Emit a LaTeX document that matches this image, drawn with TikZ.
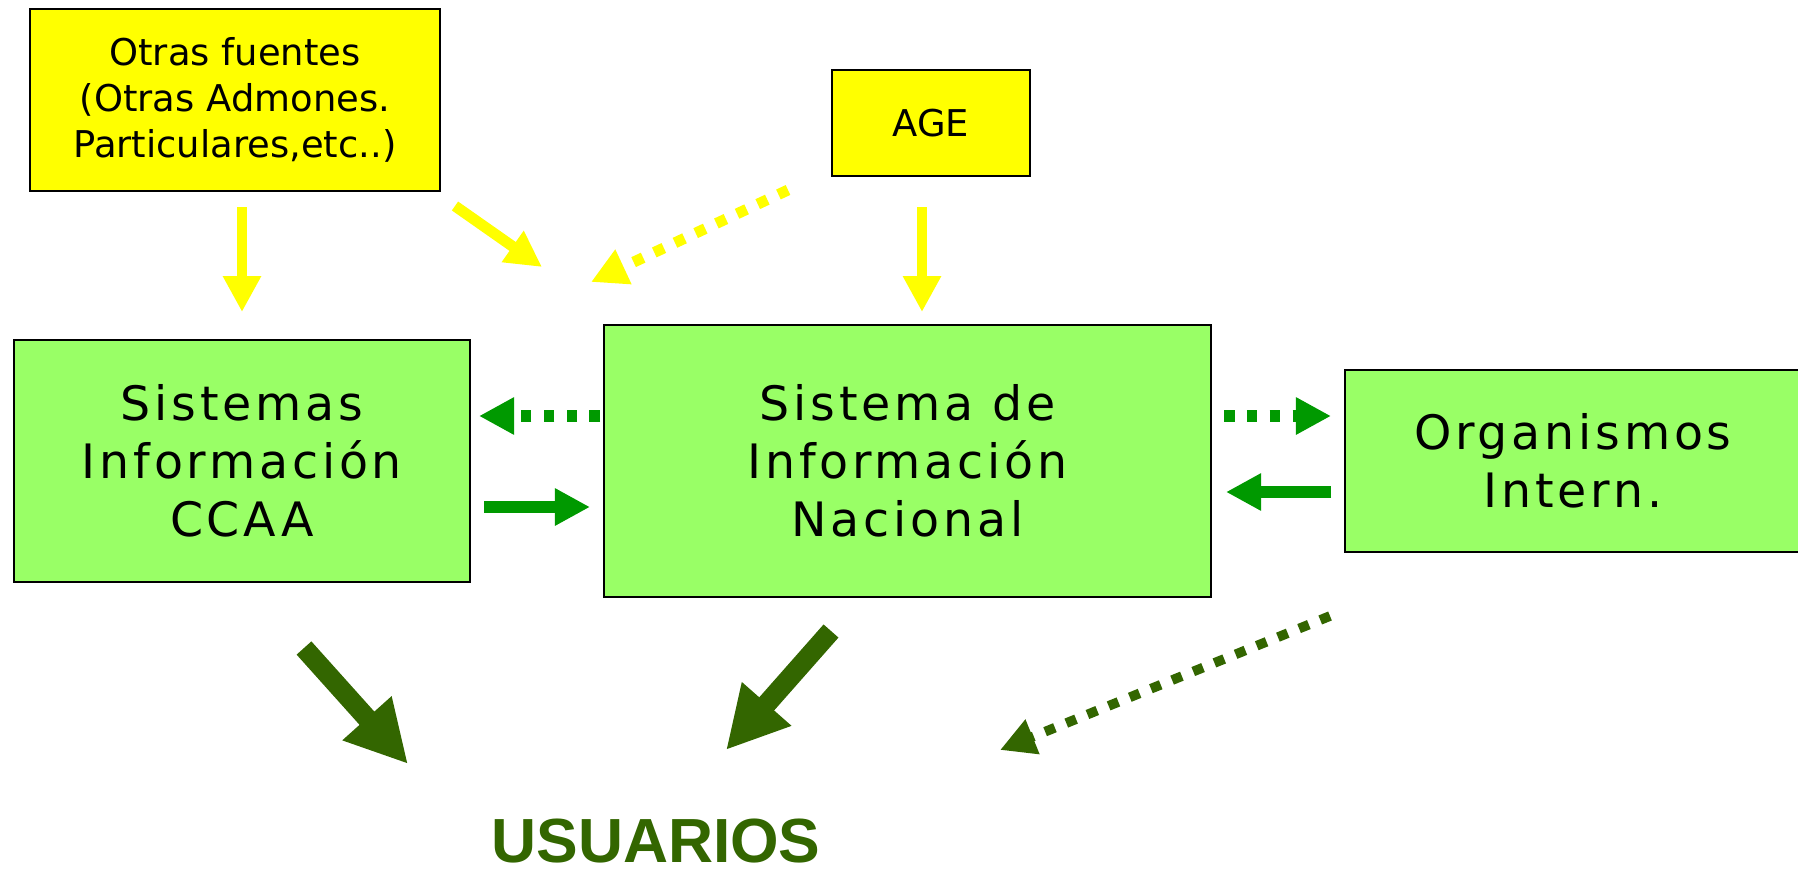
\documentclass[tikz,border=0pt]{standalone}
\usepackage{fontspec}
\setmainfont{DejaVu Sans}
\newfontfamily\wideface[LetterSpace=8]{DejaVu Sans}
\newfontfamily\userface{Liberation Sans}
\usepackage{tikz}
\usetikzlibrary{arrows.meta}
\definecolor{srcyellow}{HTML}{FFFF00}
\definecolor{sysgreen}{HTML}{99FF66}
\definecolor{linkgreen}{HTML}{009900}
\definecolor{usergreen}{HTML}{336600}

\begin{document}
\begin{tikzpicture}[x=0.02cm, y=-0.02cm,
	srcbox/.style={draw, line width=1.2pt, fill=srcyellow, inner sep=0pt, align=center, font=\fontsize{21}{26.4}\selectfont},
	sysbox/.style={draw, line width=1.2pt, fill=sysgreen, inner sep=0pt, align=center, font=\wideface\fontsize{27}{33}\selectfont},
	feed/.style={srcyellow, line width=6.2pt, -{Triangle[length=20.4pt, width=20.4pt]}},
	link/.style={linkgreen, line width=6.8pt, -{Triangle[length=20pt, width=20pt]}},
	serve/.style={usergreen, line width=11.3pt, -{Triangle[length=35pt, width=35pt]}},
	dots/.style={dash pattern=on 6pt off 7pt}]
	\useasboundingbox (0,0) rectangle (1798,872);
	% fuentes
	\node[srcbox, minimum width=8.2cm, minimum height=3.64cm] (otras) at (235,100) {Otras fuentes\\(Otras Admones.\\Particulares,etc..)};
	\node[srcbox, minimum width=3.96cm, minimum height=2.12cm] (age) at (931,123) {AGE};
	% sistemas
	\node[sysbox, minimum width=9.12cm, minimum height=4.84cm] (ccaa) at (242,461) {Sistemas\\Información\\CCAA};
	\node[sysbox, minimum width=12.14cm, minimum height=5.44cm] (nacional) at (907.5,461) {Sistema de\\Información\\Nacional};
	\node[sysbox, minimum width=9.12cm, minimum height=3.64cm] (organismos) at (1573,461) {Organismos\\Intern.};
	\node[font=\userface\bfseries\fontsize{35.5}{40}\selectfont, text=usergreen, anchor=base] (usuarios) at (656,862) {USUARIOS};
	% extremos de las flechas
	\coordinate (otras-a) at (242,207);	\coordinate (otras-b) at (242,312);
	\coordinate (otras-c) at (455,206);	\coordinate (otras-d) at (542,267);
	\coordinate (age-a) at (788,190);	\coordinate (age-b) at (591,282);
	\coordinate (age-c) at (922,207);	\coordinate (age-d) at (922,312);
	\coordinate (nac-w) at (600,416);	\coordinate (ccaa-e) at (479,416);
	\coordinate (ccaa-o) at (484,507);	\coordinate (nac-i) at (590,507);
	\coordinate (nac-e) at (1224,416);	\coordinate (org-w) at (1331,416);
	\coordinate (org-o) at (1331,492);	\coordinate (nac-j) at (1226,492);
	\coordinate (ccaa-s) at (304,648);	\coordinate (usr-a) at (408,764);
	\coordinate (nac-s) at (831,631);	\coordinate (usr-b) at (726,750);
	\coordinate (org-s) at (1330,616);	\coordinate (usr-c) at (1000,750);
	% flujos
	\draw[feed] (otras-a) -- (otras-b);
	\draw[feed] (otras-c) -- (otras-d);
	\draw[feed, dots] (age-a) -- (age-b);
	\draw[feed] (age-c) -- (age-d);
	\draw[link, dots] (nac-w) -- (ccaa-e);
	\draw[link] (ccaa-o) -- (nac-i);
	\draw[link, dots] (nac-e) -- (org-w);
	\draw[link] (org-o) -- (nac-j);
	\draw[serve] (ccaa-s) -- (usr-a);
	\draw[serve] (nac-s) -- (usr-b);
	\draw[serve, line width=5.5pt, -{Triangle[length=20pt, width=20pt]}, dots] (org-s) -- (usr-c);
\end{tikzpicture}
\end{document}
